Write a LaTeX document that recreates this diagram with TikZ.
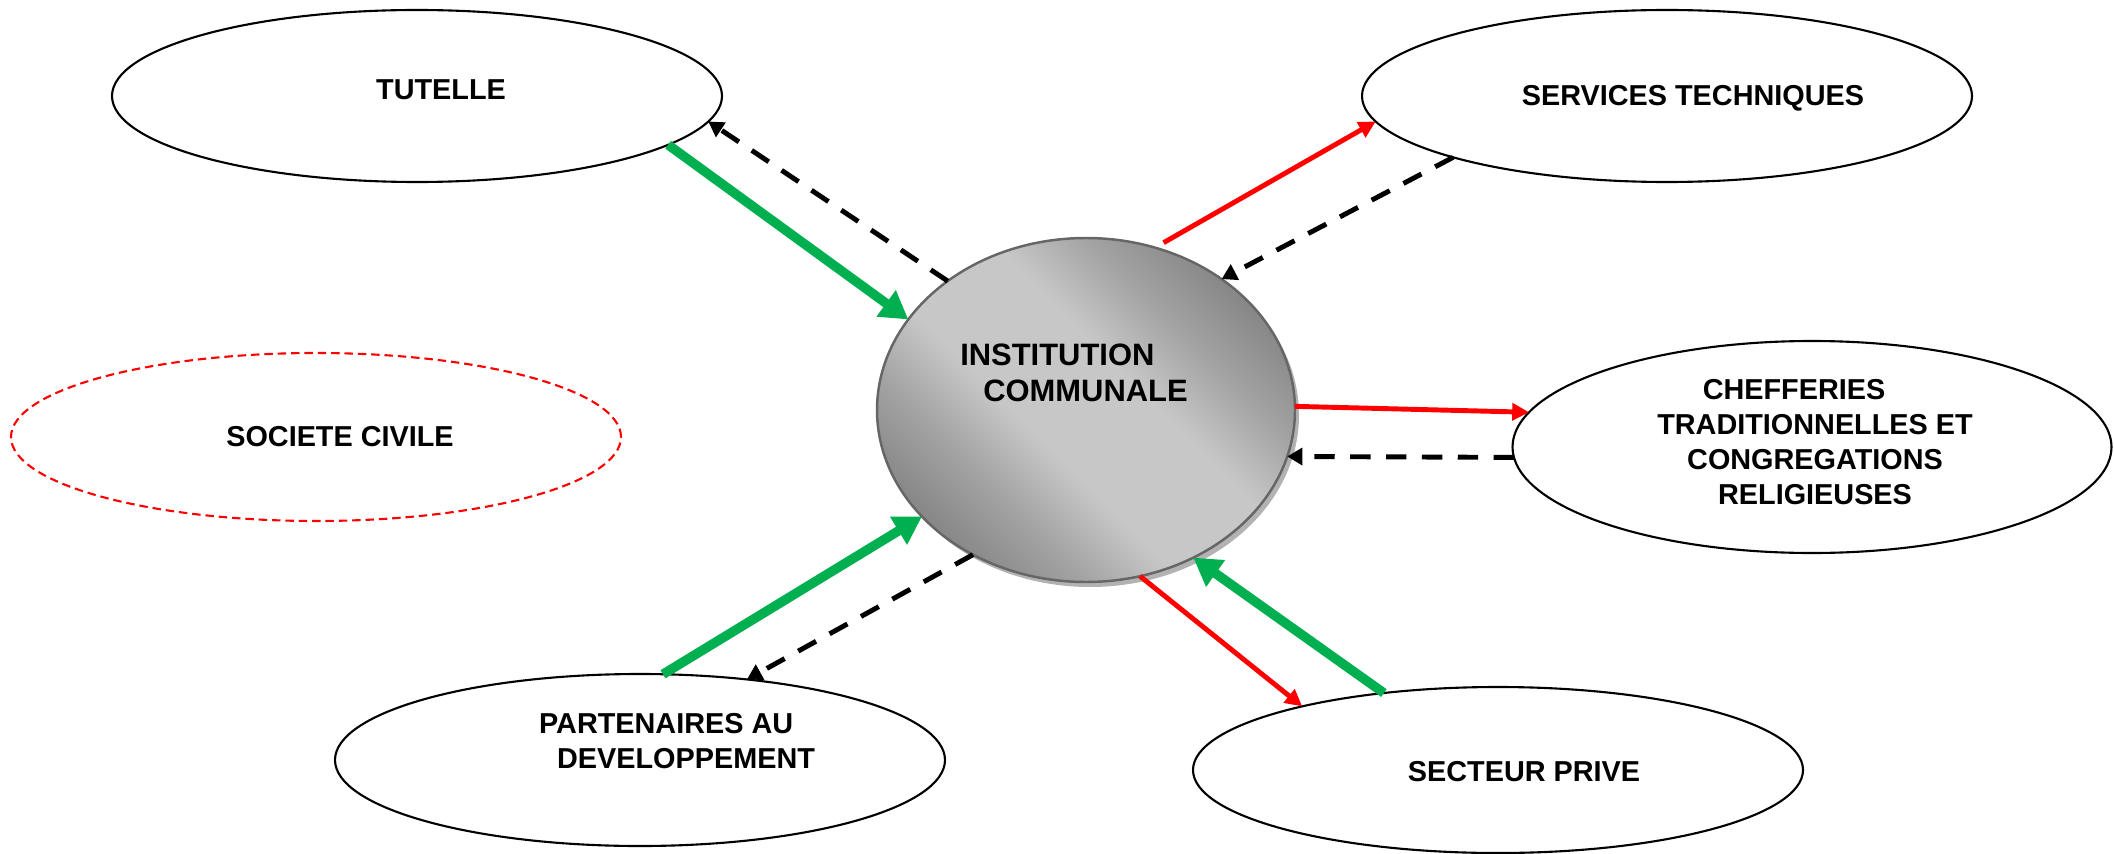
\documentclass[tikz,border=0pt]{standalone}
\usepackage{fontspec}
\setmainfont{Liberation Sans}
\usepackage{tikz}
\usetikzlibrary{arrows.meta}
\usetikzlibrary{shapes.geometric}
\usetikzlibrary{shadows}
\definecolor{LinkGreen}{RGB}{0,176,80}
\definecolor{LinkRed}{RGB}{255,0,0}
\pgfdeclareverticalshading{communeshade}{100bp}{color(0bp)=(black!48); color(25bp)=(black!47); color(34bp)=(black!36); color(43bp)=(black!22); color(57bp)=(black!22); color(66bp)=(black!36); color(75bp)=(black!47); color(100bp)=(black!48)}

\begin{document}
\begin{tikzpicture}[x = 0.1mm, y = -0.1mm,
    oval/.style = {ellipse, draw, line width = 0.6pt, inner sep = 0pt, outer sep = 0pt, minimum width = 61mm, minimum height = 17.2mm},
    lbl/.style = {font = \bfseries\fontsize{8.2}{10}\selectfont, inner sep = 0pt, align = center},
    green link/.style = {LinkGreen, line width = 2.7pt, -{Triangle[length = 7.8pt, width = 8.8pt]}},
    red link/.style = {LinkRed, line width = 1.4pt, -{Triangle[length = 4.8pt, width = 4.8pt]}},
    back link/.style = {black, line width = 1.4pt, dash pattern = on 5.8pt off 4.4pt, -{Triangle[length = 4.3pt, width = 4.8pt]}}]
    \useasboundingbox (0, 0) rectangle (2114, 854);
    % the commune in the middle
    \node [ellipse, draw = black!60, line width = 0.7pt, inner sep = 0pt, outer sep = 0pt, minimum width = 41.8mm, minimum height = 34.4mm,
        shading = communeshade, shading angle = -45,
        drop shadow = {shadow xshift = 0.4mm, shadow yshift = -0.5mm, fill = black!30, opacity = 1}] (inst) at (1086, 410) {};
    \node [lbl, font = \bfseries\fontsize{8.8}{10.2}\selectfont, align = left] (instlbl) at (1074, 373) {INSTITUTION\\\hspace*{2.3mm}COMMUNALE};
    % the actors round it
    \node [oval] (tut) at (417, 96) {};
    \node [lbl] (tutlbl) at (441, 90) {TUTELLE};
    \node [oval] (serv) at (1667, 96) {};
    \node [lbl] (servlbl) at (1693, 98) {SERVICES TECHNIQUES};
    \node [oval, draw = LinkRed, line width = 0.6pt, dash pattern = on 2.4pt off 1.4pt, minimum height = 16.8mm] (soc) at (316, 437) {};
    \node [lbl] (soclbl) at (340, 437) {SOCIETE CIVILE};
    \node [oval, minimum width = 59.9mm, minimum height = 21.2mm] (chef) at (1812, 447) {};
    \node [lbl] (cheflbl) at (1815, 442) {CHEFFERIES\rule{4.2mm}{0pt}\\TRADITIONNELLES ET\\CONGREGATIONS\\RELIGIEUSES};
    \node [oval] (part) at (640, 760) {};
    \node [lbl, align = left] (partlbl) at (677, 741) {PARTENAIRES AU\\\hspace*{1.8mm}DEVELOPPEMENT};
    \node [oval, minimum height = 16.6mm] (sect) at (1498, 770) {};
    \node [lbl] (sectlbl) at (1524, 772) {SECTEUR PRIVE};
    % links
    \draw [green link] (tut.-11) -- (inst.153);
    \draw [back link] (inst.137) -- (tut.-5);
    \draw [red link, shorten <= 1mm] (inst.67) -- (serv.185);
    \draw [back link] (serv.196) -- (inst.44);
    \draw [red link] (inst.1) -- (chef.173);
    \draw [back link] (chef.182) -- (inst.-13);
    \draw [green link] (part.75) -- (inst.213);
    \draw [back link] (inst.232) -- (part.37);
    \draw [red link] (inst.-72) -- (sect.162);
    \draw [green link] (sect.146) -- (inst.-54);
\end{tikzpicture}
\end{document}
